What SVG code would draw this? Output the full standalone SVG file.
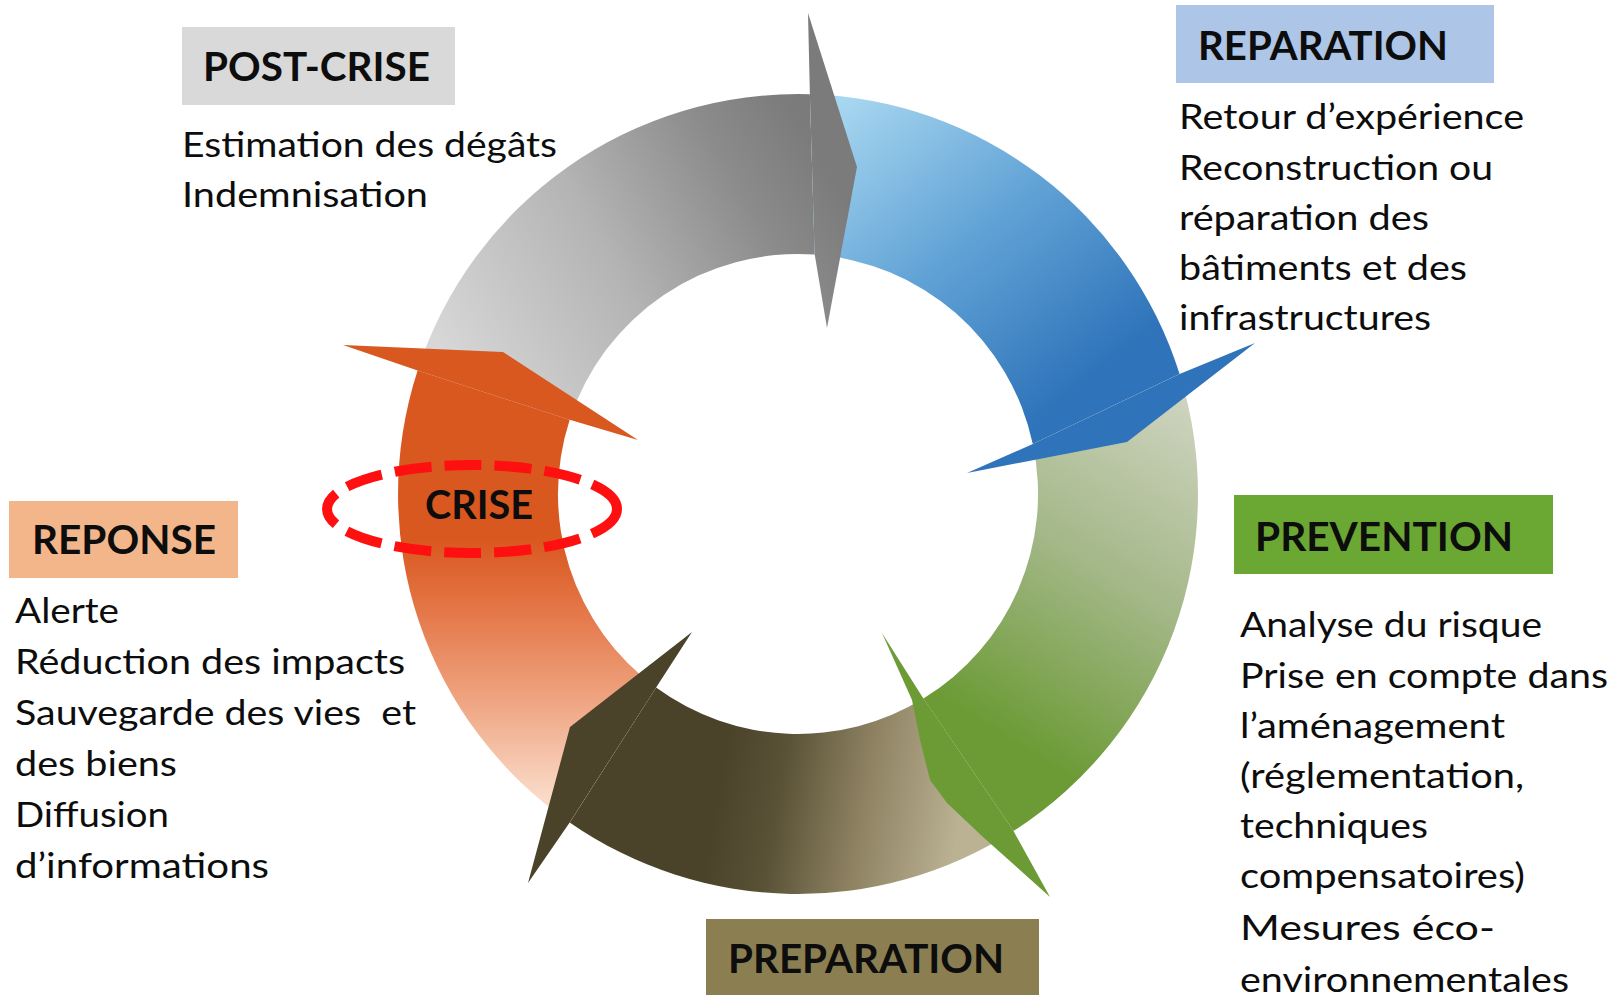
<svg xmlns="http://www.w3.org/2000/svg" width="1614" height="995" viewBox="0 0 1614 995">
<defs>
<style>
.hdr{font-family:Lato,"Open Sans","Liberation Sans",sans-serif;font-weight:bold;font-size:40px;fill:#0d0d0d}
.txt{font-family:Lato,"Open Sans","Liberation Sans",sans-serif;font-size:34px;fill:#0d0d0d}
</style>
<linearGradient id="gGray" gradientUnits="userSpaceOnUse" x1="430" y1="330" x2="800" y2="120">
<stop offset="0" stop-color="#d7d7d7"/><stop offset="0.45" stop-color="#b4b4b4"/><stop offset="0.8" stop-color="#8b8b8b"/><stop offset="1" stop-color="#7b7b7b"/>
</linearGradient>
<linearGradient id="gBlue" gradientUnits="userSpaceOnUse" x1="830" y1="110" x2="1060" y2="400">
<stop offset="0" stop-color="#a8d7f0"/><stop offset="0.5" stop-color="#62a3d6"/><stop offset="1" stop-color="#2f74ba"/>
</linearGradient>
<linearGradient id="gGreen" gradientUnits="userSpaceOnUse" x1="1180" y1="400" x2="980" y2="720">
<stop offset="0" stop-color="#cdd3be"/><stop offset="0.5" stop-color="#a3b787"/><stop offset="1" stop-color="#6c9b36"/>
</linearGradient>
<linearGradient id="gBrown" gradientUnits="userSpaceOnUse" x1="960" y1="820" x2="720" y2="780">
<stop offset="0" stop-color="#bab293"/><stop offset="0.4" stop-color="#8e8262"/><stop offset="0.75" stop-color="#5a5237"/><stop offset="1" stop-color="#4a432a"/>
</linearGradient>
<linearGradient id="gOrange" gradientUnits="userSpaceOnUse" x1="0" y1="800" x2="0" y2="540">
<stop offset="0" stop-color="#fadcca"/><stop offset="0.4" stop-color="#eea27e"/><stop offset="0.75" stop-color="#e37444"/><stop offset="1" stop-color="#d95820"/>
</linearGradient>
</defs>
<rect x="0" y="0" width="1614" height="995" fill="#ffffff"/>

<g id="connectors">
<path id="shaft-gray" fill="url(#gGray)" d="M 417.6 370.4 A 400 400 0 0 1 809.9 94.2 L 814.7 254.6 A 240 240 0 0 0 569.7 419.8 Z"/>
<path id="shaft-blue" fill="url(#gBlue)" d="M 809.9 94.2 A 400 400 0 0 1 1179.6 374.1 L 1032.8 444.1 A 240 240 0 0 0 814.7 254.6 Z"/>
<path id="shaft-green" fill="url(#gGreen)" d="M 1179.6 374.1 A 400 400 0 0 1 1013.5 831 L 923.4 698.6 A 240 240 0 0 0 1032.8 444.1 Z"/>
<path id="shaft-brown" fill="url(#gBrown)" d="M 1013.5 831 A 400 400 0 0 1 569.7 822.4 L 656.1 687.5 A 240 240 0 0 0 923.4 698.6 Z"/>
<path id="shaft-orange" fill="url(#gOrange)" d="M 569.7 822.4 A 400 400 0 0 1 417.6 370.4 L 569.7 419.8 A 240 240 0 0 0 656.1 687.5 Z"/>
<path id="head-gray" fill="url(#gGray)" d="M 809.9 94.2 L 808 13 L 857 167 L 827 328 L 814.7 254.6 Z"/>
<path id="head-blue" fill="url(#gBlue)" d="M 1179.6 374.1 L 1255 343 L 1127 442 L 967 473 L 1032.8 444.1 Z"/>
<path id="head-green" fill="url(#gGreen)" d="M 1013.5 831 L 1050 897 L 983 837 L 947 803 L 930 780 L 920 740 L 912 700 L 882 633 L 923.4 698.6 Z"/>
<path id="head-brown" fill="url(#gBrown)" d="M 569.7 822.4 L 528 883 L 570 727 L 692 632 L 656.1 687.5 Z"/>
<path id="head-orange" fill="url(#gOrange)" d="M 417.6 370.4 L 343 345 L 503 352 L 638 440 L 569.7 419.8 Z"/>
</g>

<g id="node-post-crise">
<rect x="182" y="27" width="273" height="78" fill="#d9d9d9"/>
<text class="hdr" x="203" y="81" textLength="227" lengthAdjust="spacingAndGlyphs">POST-CRISE</text>
<text class="txt" x="182" y="157" textLength="375" lengthAdjust="spacingAndGlyphs">Estimation des dégâts</text>
<text class="txt" x="182" y="207" textLength="246" lengthAdjust="spacingAndGlyphs">Indemnisation</text>
</g>

<g id="node-reparation">
<rect x="1176" y="5" width="318" height="78" fill="#adc5e6"/>
<text class="hdr" x="1198" y="60" textLength="250" lengthAdjust="spacingAndGlyphs">REPARATION</text>
<text class="txt" x="1179" y="129" textLength="345" lengthAdjust="spacingAndGlyphs">Retour d’expérience</text>
<text class="txt" x="1179" y="180" textLength="314" lengthAdjust="spacingAndGlyphs">Reconstruction ou</text>
<text class="txt" x="1179" y="230" textLength="250" lengthAdjust="spacingAndGlyphs">réparation des</text>
<text class="txt" x="1179" y="280" textLength="288" lengthAdjust="spacingAndGlyphs">bâtiments et des</text>
<text class="txt" x="1179" y="330" textLength="252" lengthAdjust="spacingAndGlyphs">infrastructures</text>
</g>

<g id="node-prevention">
<rect x="1234" y="495" width="319" height="79" fill="#6aa833"/>
<text class="hdr" x="1255" y="551" textLength="258" lengthAdjust="spacingAndGlyphs">PREVENTION</text>
<text class="txt" x="1240" y="637" textLength="302" lengthAdjust="spacingAndGlyphs">Analyse du risque</text>
<text class="txt" x="1240" y="688" textLength="368" lengthAdjust="spacingAndGlyphs">Prise en compte dans</text>
<text class="txt" x="1240" y="738" textLength="265" lengthAdjust="spacingAndGlyphs">l’aménagement</text>
<text class="txt" x="1240" y="788" textLength="284" lengthAdjust="spacingAndGlyphs">(réglementation,</text>
<text class="txt" x="1240" y="838" textLength="188" lengthAdjust="spacingAndGlyphs">techniques</text>
<text class="txt" x="1240" y="888" textLength="285" lengthAdjust="spacingAndGlyphs">compensatoires)</text>
<text class="txt" x="1240" y="940" textLength="255" lengthAdjust="spacingAndGlyphs">Mesures éco-</text>
<text class="txt" x="1240" y="992" textLength="329" lengthAdjust="spacingAndGlyphs">environnementales</text>
</g>

<g id="node-preparation">
<rect x="706" y="919" width="333" height="80" fill="#8b7f52"/>
<text class="hdr" x="728" y="973" textLength="276" lengthAdjust="spacingAndGlyphs">PREPARATION</text>
</g>

<g id="node-reponse">
<rect x="9" y="501" width="229" height="77" fill="#f3b68a"/>
<text class="hdr" x="32" y="554" textLength="184" lengthAdjust="spacingAndGlyphs">REPONSE</text>
<text class="txt" x="15" y="623" textLength="104" lengthAdjust="spacingAndGlyphs">Alerte</text>
<text class="txt" x="15" y="674" textLength="390" lengthAdjust="spacingAndGlyphs">Réduction des impacts</text>
<text class="txt" x="15" y="725" textLength="401" lengthAdjust="spacingAndGlyphs" style="white-space:pre">Sauvegarde des vies  et</text>
<text class="txt" x="15" y="776" textLength="162" lengthAdjust="spacingAndGlyphs">des biens</text>
<text class="txt" x="15" y="827" textLength="154" lengthAdjust="spacingAndGlyphs">Diffusion</text>
<text class="txt" x="15" y="878" textLength="254" lengthAdjust="spacingAndGlyphs">d’informations</text>
</g>

<g id="node-crise">
<ellipse cx="472" cy="509" rx="145" ry="44" fill="none" stroke="#ff1010" stroke-width="10" stroke-dasharray="37 13"/>
<text class="hdr" x="425" y="519" textLength="108" lengthAdjust="spacingAndGlyphs">CRISE</text>
</g>
</svg>
